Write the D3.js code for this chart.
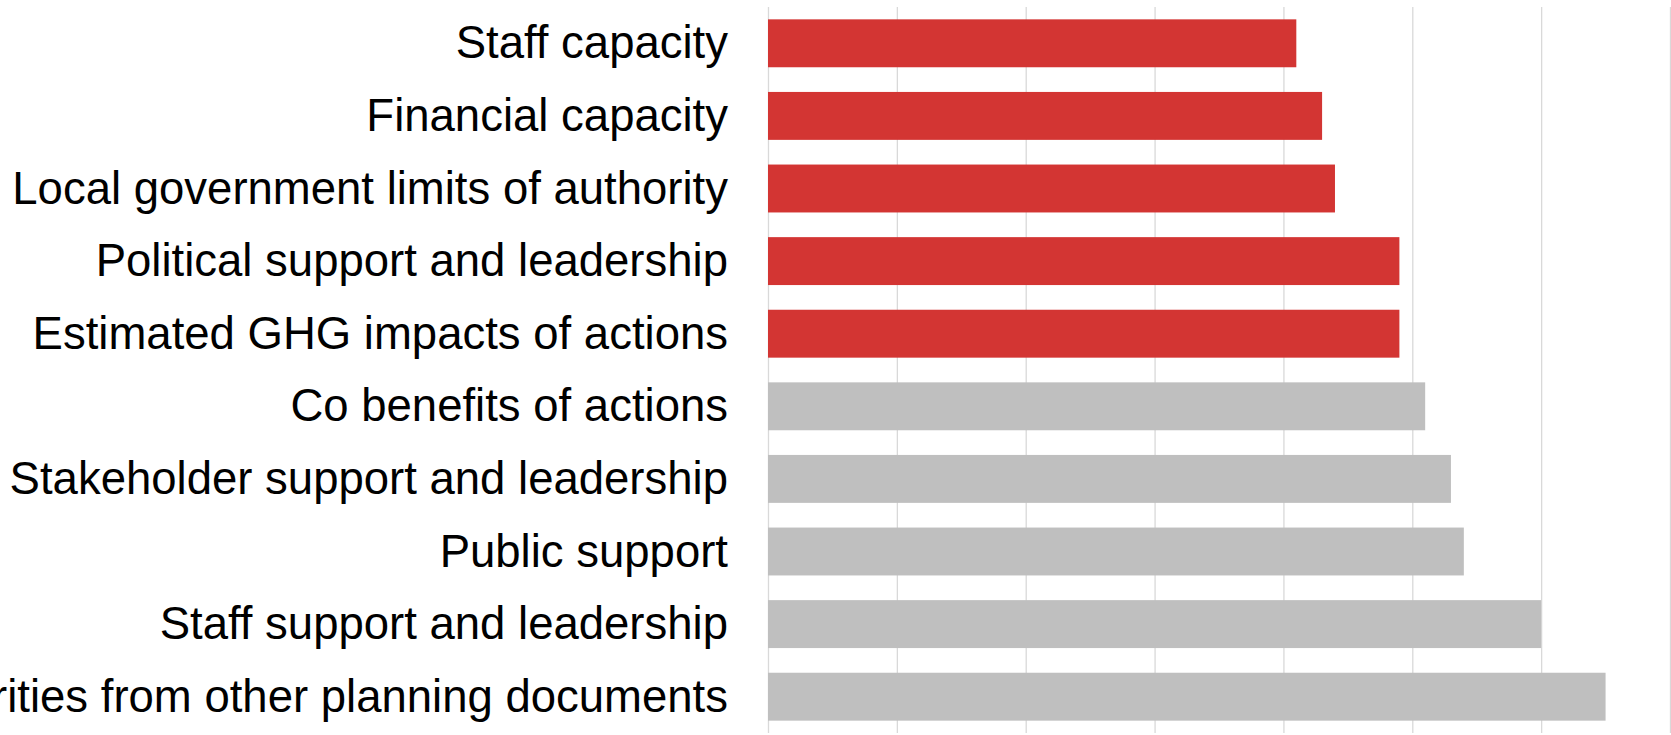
<!DOCTYPE html>
<html>
<head>
<meta charset="utf-8">
<script src="https://cdn.jsdelivr.net/npm/d3@7"></script>
<style>
  body { margin: 0; background: #fff; }
  svg { display: block; }
</style>
</head>
<body>
<div id="chart"></div>
<script>
// Categories, top to bottom
var categories = [
  "Staff capacity",
  "Financial capacity",
  "Local government limits of authority",
  "Political support and leadership",
  "Estimated GHG impacts of actions",
  "Co benefits of actions",
  "Stakeholder support and leadership",
  "Public support",
  "Staff support and leadership",
  "Priorities from other planning documents"
];

var values = [4.1, 4.3, 4.4, 4.9, 4.9, 5.1, 5.3, 5.4, 6.0, 6.5];

// Which bars are highlighted (red) vs. the rest (gray)
var highlighted = [true, true, true, true, true, false, false, false, false, false];

// Gridline positions
var gridTicks = [0, 1, 2, 3, 4, 5, 6, 7];

var svgWidth = 1671;
var svgHeight = 735;

var margin = { top: 7, right: 1, bottom: 2, left: 768 };

var chartWidth = svgWidth - margin.left - margin.right;
var chartHeight = svgHeight - margin.top - margin.bottom;

var svg = d3.select("#chart")
  .append("svg")
  .attr("width", svgWidth)
  .attr("height", svgHeight);

var chartGroup = svg.append("g")
  .attr("transform", `translate(${margin.left}, ${margin.top})`);

var data = categories.map((c, i) => ({ name: c, value: values[i], hi: highlighted[i] }));

var xScale = d3.scaleLinear()
  .domain([0, 7])
  .range([0, chartWidth]);

var yScale = d3.scaleBand()
  .domain(categories)
  .range([0, chartHeight])
  .paddingInner(0.34)
  .paddingOuter(0.17);

// Vertical gridlines
var gridAxis = d3.axisBottom(xScale)
  .tickValues(gridTicks)
  .tickSize(chartHeight)
  .tickFormat("");

var grid = chartGroup.append("g")
  .call(gridAxis);
grid.select(".domain").remove();
grid.selectAll(".tick line")
  .attr("stroke", "#d9d9d9")
  .attr("stroke-width", 1.3);

// Bars
chartGroup.selectAll("rect.bar")
  .data(data)
  .enter()
  .append("rect")
  .classed("bar", true)
  .attr("x", xScale(0))
  .attr("y", d => yScale(d.name))
  .attr("width", d => xScale(d.value) - xScale(0))
  .attr("height", yScale.bandwidth())
  .attr("fill", d => d.hi ? "#d33533" : "#bfbfbf");

// Category labels
var leftAxis = d3.axisLeft(yScale).tickSize(0).tickPadding(40);
var yAxis = chartGroup.append("g").call(leftAxis);
yAxis.select(".domain").remove();
yAxis.selectAll(".tick text")
  .attr("font-family", "'Liberation Sans', Arial, Helvetica, sans-serif")
  .attr("font-size", 45.5)
  .attr("fill", "#000")
  .attr("dy", "0.33em");
</script>
</body>
</html>
